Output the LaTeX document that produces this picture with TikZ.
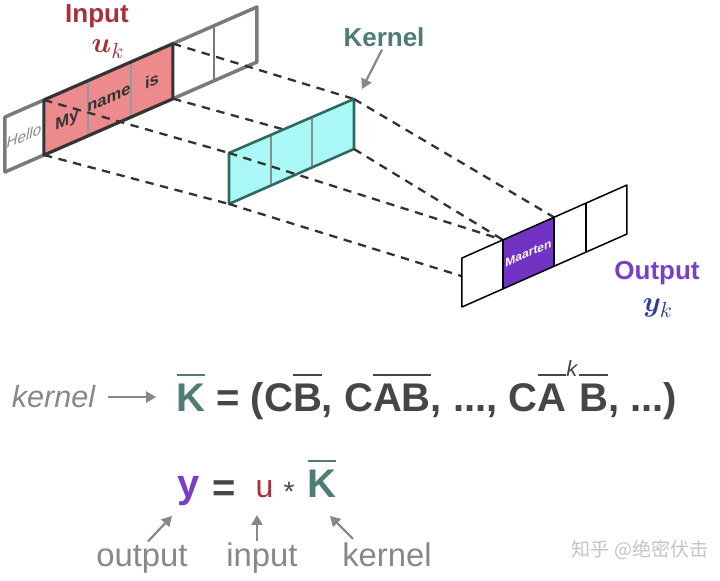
\documentclass[tikz,border=0pt]{standalone}
\usepackage{fontspec}
\setmainfont{Liberation Sans}
\newfontfamily\cjk{Noto Sans CJK SC}
\usepackage{bm}
\usetikzlibrary{arrows.meta}
\definecolor{inred}{HTML}{A8303A}
\definecolor{pinkfill}{HTML}{EC8A8D}
\definecolor{kteal}{HTML}{4D7D75}
\definecolor{cyanfill}{HTML}{A9F8F6}
\definecolor{kborder}{HTML}{2C6B5E}
\definecolor{opurple}{HTML}{7A3FC9}
\definecolor{mpurple}{HTML}{7232C4}
\definecolor{yblue}{HTML}{2E3B98}
\definecolor{lgray}{HTML}{888888}
\definecolor{fgray}{HTML}{464646}
\definecolor{sgray}{HTML}{7A7A7A}
\definecolor{dgray}{HTML}{333333}
\definecolor{wmgray}{HTML}{C4C4C4}
\newcommand\myobar[1]{\setbox0=\hbox{#1}\rlap{\raisebox{\dimexpr\ht0+4pt\relax}{\rule{\wd0}{1.1pt}}}\box0}
\newcommand\kexp{\raisebox{\dimexpr\fontcharht\font`B+4pt\relax}{\fontsize{11}{11}\selectfont\mdseries\itshape k}\kern1pt}
\tikzset{
  dashline/.style={draw=dgray, line width=1.15pt, dash pattern=on 4.2pt off 3.3pt},
  garrow/.style={draw=lgray, line width=1.1pt, -{Triangle[length=5pt,width=5.5pt]}},
  celltxt/.style={inner sep=0pt, yslant=0.437, font=\bfseries\fontsize{8.3}{10}\selectfont, text=dgray},
  bigtitle/.style={font=\bfseries\fontsize{13}{15}\selectfont, inner sep=1pt},
  fml/.style={font=\bfseries\fontsize{20}{24}\selectfont, text=fgray, inner sep=0pt},
  lbl/.style={font=\fontsize{16.4}{19}\selectfont, text=lgray, inner sep=1pt},
}
\begin{document}
\begin{tikzpicture}[x=0.5pt,y=-0.5pt]
\useasboundingbox (0,0) rectangle (720,581);
% ---------- input strip ----------
\coordinate (iTL) at (5,117);   \coordinate (iBL) at (5,172);
\coordinate (iTR) at (257,7);   \coordinate (iBR) at (257,62);
\coordinate (hTL) at (44,100);  \coordinate (hBL) at (44,155);
\coordinate (hTR) at (173,43.7);\coordinate (hBR) at (173,98.7);
\filldraw[fill=white, draw=sgray, line width=1.75pt, line join=round] (iTL) -- (iTR) -- (iBR) -- (iBL) -- cycle;
\fill[pinkfill] (hTL) -- (hTR) -- (hBR) -- (hBL) -- cycle;
\draw[draw=black!40, line width=0.6pt] (88,80.8) -- (88,135.8) (131,62) -- (131,117);
\draw[draw=sgray, line width=1pt] (214,25.8) -- (214,80.8);
\draw[draw=dgray, line width=1.5pt, line join=round] (hTL) -- (hTR) -- (hBR) -- (hBL) -- cycle;
\node[celltxt, text=lgray, font=\mdseries\itshape\fontsize{7.6}{9}\selectfont] (hello) at (24,136) {Hello};
\node[celltxt] (my) at (67,121) {My};
\node[celltxt] (nm) at (109,99) {name};
\node[celltxt] (is) at (152,81) {is};
\node[bigtitle, text=inred, anchor=base] (inlbl) at (97,23) {Input};
\node[inner sep=0pt, text=inred, anchor=base, font=\fontsize{15}{17}\selectfont] (uk) at (108,53) {$\bm{u}_k$};
% ---------- kernel ----------
\coordinate (kTL) at (229,153); \coordinate (kBL) at (229,204);
\coordinate (kTR) at (354,99);  \coordinate (kBR) at (354,149);
\draw[dashline] (hTR) -- (kTR);
\draw[dashline] (hBR) -- (kBR);
\draw[dashline] (hTL) -- (kTL);
\draw[dashline] (hBL) -- (kBL);
\fill[cyanfill] (kTL) -- (kTR) -- (kBR) -- (kBL) -- cycle;
\draw[draw=black!45, line width=0.6pt] (271,134.9) -- (271,185.9) (312,117.1) -- (312,168.1);
\draw[draw=kborder, line width=1.3pt, line join=round] (kTL) -- (kTR) -- (kBR) -- (kBL) -- cycle;
\node[bigtitle, text=kteal, anchor=base] (klbl) at (384,47) {Kernel};
\coordinate (kae) at (362,89);
\draw[garrow] ([xshift=-1pt]klbl.south) -- (kae);
% ---------- output ----------
\coordinate (oTL) at (462,258); \coordinate (oBL) at (462,307);
\coordinate (oTR) at (627,185); \coordinate (oBR) at (627,234);
\coordinate (pTL) at (503,239.9); \coordinate (pBL) at (503,288.9);
\coordinate (pTR) at (554,217.3); \coordinate (pBR) at (554,266.3);
\draw[dashline] (kTL) -- (pTL);
\draw[dashline] (kBL) -- (pBL);
\draw[dashline] (kBR) -- (pTL);
\draw[dashline] (kTR) -- (pTR);
\fill[white] (oTL) -- (oTR) -- (oBR) -- (oBL) -- cycle;
\fill[mpurple] (pTL) -- (pTR) -- (pBR) -- (pBL) -- cycle;
\draw[black, line width=0.75pt] (pTL) -- (pBL) (pTR) -- (pBR) (586,203.1) -- (586,252.1);
\draw[black, line width=0.75pt, line join=round] (oTL) -- (oTR) -- (oBR) -- (oBL) -- cycle;
\node[celltxt, text=white, font=\bfseries\fontsize{6}{7}\selectfont, yslant=0.005] (maarten) at (528.5,253) {Maarten};
\node[bigtitle, text=opurple, anchor=base] (outlbl) at (657,280) {Output};
\node[inner sep=0pt, text=yblue, anchor=base, font=\fontsize{15}{17}\selectfont] (yk) at (658,312) {$\bm{y}_k$};
% ---------- formula 1 ----------
\node[font=\itshape\fontsize{15.3}{18}\selectfont, text=lgray, anchor=base, inner sep=1pt] (kw) at (53.5,408) {kernel};
\node[fml, text=kteal, anchor=base] (kb) at (191,412) {\myobar{K}};
\node[fml, anchor=base west] (kf) at (216,412) {= (C\myobar{B}, C\myobar{AB}, ..., C\myobar{A}\kexp\myobar{B}, ...)};
\draw[garrow, shorten <=5pt, shorten >=10pt] (kw.east) -- (kw.east -| kb.west);
% ---------- formula 2 ----------
\node[fml, text=opurple, anchor=base] (yy) at (189,498) {y};
\node[fml] (eq) at (224,491) {=};
\node[inner sep=0pt, text=inred, anchor=base, font=\fontsize{16}{18}\selectfont] (uu) at (264.5,498) {u};
\node[inner sep=0pt, text=fgray, font=\fontsize{14}{16}\selectfont] (st) at (289,492) {*};
\node[fml, text=kteal, anchor=base] (kb2) at (322,498) {\myobar{K}};
\node[lbl, anchor=base] (lo) at (142,567) {output};
\node[lbl, anchor=base] (li) at (262,567) {input};
\node[lbl, anchor=base] (lk) at (387,567) {kernel};
\coordinate (ay) at (172,516);
\coordinate (ai) at (257,515);
\coordinate (ak) at (330,516);
\draw[garrow] ([xshift=3pt,yshift=1pt]lo.north) -- (ay);
\draw[garrow] ([xshift=-2.5pt]li.north) -- (ai);
\draw[garrow] ([xshift=-17pt,yshift=1pt]lk.north) -- (ak);
% ---------- watermark ----------
\node[text=wmgray, font=\cjk\fontsize{9.5}{11}\selectfont] (wm) at (640,550) {知乎 @绝密伏击};
\end{tikzpicture}
\end{document}
